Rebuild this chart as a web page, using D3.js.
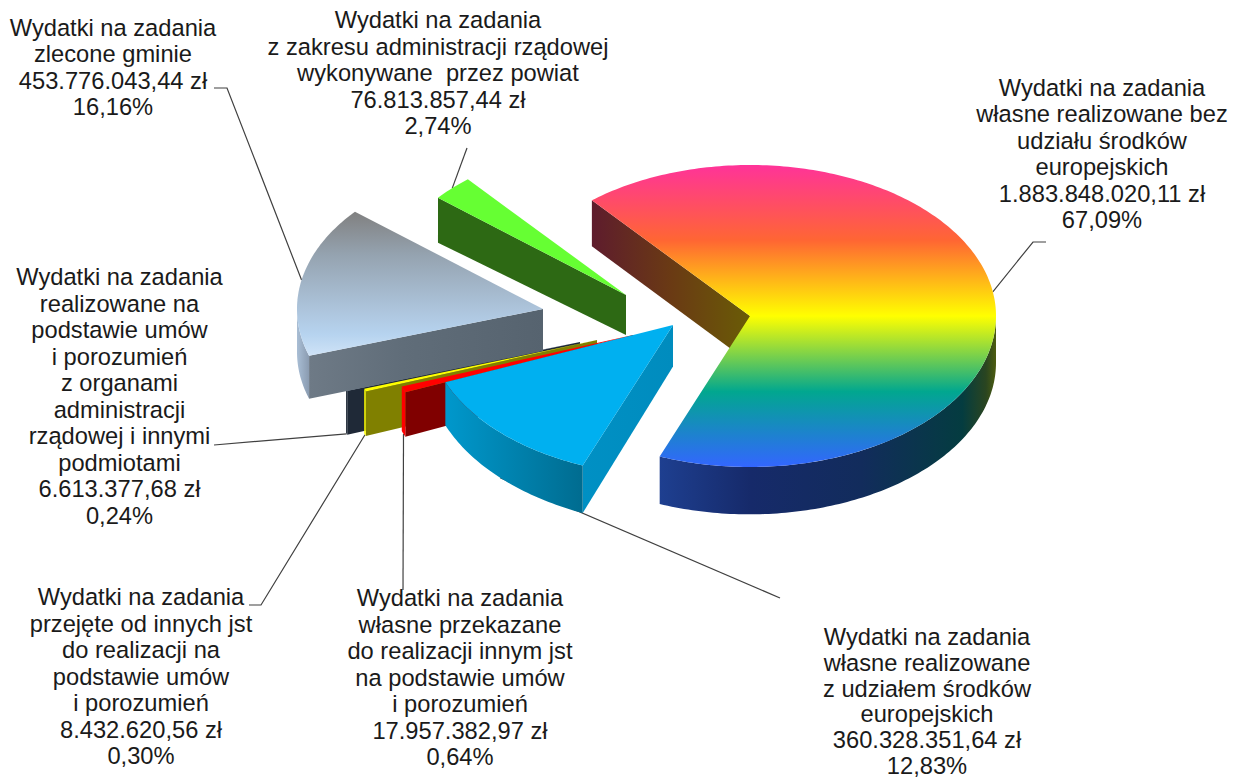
<!DOCTYPE html>
<html><head><meta charset="utf-8">
<style>html,body{margin:0;padding:0;background:#fff;overflow:hidden}svg{display:block}text{font-family:"Liberation Sans",Arial,sans-serif;white-space:pre}</style>
<script src="https://cdn.jsdelivr.net/npm/d3@7/dist/d3.min.js"></script>
</head><body><svg id="c" width="1238" height="780"></svg>
<script>
// ---- data ----
const sliceNames = ["big","blue","red","olive","dark","gray","green"];
const sliceValues = [1883848020.11, 360328351.64, 17957382.97, 8432620.56, 6613377.68, 453776043.44, 76813857.44];
const sliceDescriptions = [
  ["Wydatki na zadania","własne realizowane bez","udziału środków","europejskich"],
  ["Wydatki na zadania","własne realizowane","z udziałem środków","europejskich"],
  ["Wydatki na zadania","własne przekazane","do realizacji innym jst","na podstawie umów","i porozumień"],
  ["Wydatki na zadania","przejęte od innych jst","do realizacji na","podstawie umów","i porozumień"],
  ["Wydatki na zadania","realizowane na","podstawie umów","i porozumień","z organami","administracji","rządowej i innymi","podmiotami"],
  ["Wydatki na zadania","zlecone gminie"],
  ["Wydatki na zadania","z zakresu administracji rządowej","wykonywane  przez powiat"]
];
// ---- layout (not data) ----
const W=1238,H=780, RX=246, RY=151;
const apexes = {big:[750,316],blue:[673,325],red:[633,335],olive:[597,340],dark:[580,342],gray:[543,309],green:[626,295]};
// wall height: [at apex, at rim start, at rim end]
const wallDepths = {big:[47,46,47.5],blue:[41.6,47.6,43],red:[41,44.5,44.5],olive:[41,44.5,44.5],dark:[41,44,44],gray:[42,43,43],green:[40,45,45]};
const labelPos = {big:[1102,95.5],blue:[927,645],red:[460,606],olive:[141,605],dark:[119.5,285],gray:[113,35.5],green:[438,28]};
const labelSpacing = {big:26.5,blue:25.8,red:26.5,olive:26.5,dark:26.5,gray:26.5,green:26.5};
const leaderElbows = {
  big:[[1033,242],[1046,242]], blue:[[780,598]], red:[[403,590]],
  olive:[[261,605],[249,605]], dark:[[214,445]], gray:[[227,88],[214,88]], green:[[467,148]]
};
const leaderAtBottom = {blue:1,red:1,olive:1,dark:1};
const drawOrder = ["green","dark","gray","olive","red","blue","big"];
const styles = {
  big:{top:[[0,"#ff3399"],[.25,"#ff6633"],[.5,"#ffff00"],[.75,"#01a78f"],[1,"#3366ff"]],
       radial:[[0,"#5e1c2d"],[.5,"#6a3a14"],[1,"#6a5c06"]],
       arc:[[0,"#1e3f90"],[.27,"#162a6a"],[.6,"#122c5c"],[.9,"#043c40"],[.97,"#2a4520"],[1,"#4d5c10"]]},
  blue:{top:[[0,"#00b0f0"],[1,"#00b0f0"]],radial:[[0,"#0090c4"],[1,"#008cbe"]],arc:[[0,"#0098cc"],[1,"#006c90"]]},
  red:{top:[[0,"#ff0000"],[1,"#ff0000"]],radial:[[0,"#800000"],[1,"#800000"]],arc:[[0,"#ff0000"],[1,"#ff0000"]]},
  olive:{top:[[0,"#ffff00"],[1,"#ffff00"]],radial:[[0,"#808000"],[1,"#808000"]],arc:[[0,"#ffff00"],[1,"#ffff00"]]},
  dark:{top:[[0,"#3a4d66"],[1,"#3a4d66"]],radial:[[0,"#1f2937"],[1,"#1f2937"]],arc:[[0,"#1f2937"],[1,"#1f2937"]]},
  gray:{top:[[0,"#808080"],[.3,"#95a3b0"],[.7,"#aec6de"],[.85,"#b6d3ef"],[1,"#cfe3f7"]],
        radial:[[0,"#6e7a86"],[.4,"#606d79"],[1,"#56636f"]],arc:[[0,"#a9bed5"],[1,"#8a9bb0"]]},
  green:{top:[[0,"#66ff33"],[1,"#66ff33"]],radial:[[0,"#2d6914"],[1,"#2d6914"]],arc:[[0,"#2d6914"],[1,"#2d6914"]]}
};
// ---- chart ----
const svg=d3.select("#c");
const defs=svg.append("defs");
const rad=d=>d*Math.PI/180;
const pie=d3.pie().sort(null).value(d=>d).startAngle(rad(-40)).endAngle(rad(320));
const arcs=pie(sliceValues);
const total=d3.sum(sliceValues);
const loc=d3.formatLocale({decimal:",",thousands:".",grouping:[3],currency:["",""]});
const fmtV=loc.format(",.2f"), fmtP=loc.format(".2f");
const xs=d3.scaleLinear().domain([-1,1]).range([-RX,RX]);
const ys=d3.scaleLinear().domain([-1,1]).range([-RY,RY]);
const pt=(name,a,z=0)=>{const [ax,ay]=apexes[name];return [ax+xs(Math.sin(a)),ay+ys(-Math.cos(a))+z];};
const line=d3.line();
const sample=(a0,a1)=>{const n=Math.max(2,Math.ceil(Math.abs(a1-a0)/rad(1)));return d3.range(n+1).map(i=>a0+(a1-a0)*i/n);};
function grad(id,stops,x1,y1,x2,y2){
  const g=defs.append("linearGradient").attr("id",id).attr("gradientUnits","userSpaceOnUse")
    .attr("x1",x1).attr("y1",y1).attr("x2",x2).attr("y2",y2);
  stops.forEach(s=>g.append("stop").attr("offset",s[0]).attr("stop-color",s[1]));
  return `url(#${id})`;
}
const byName={};arcs.forEach((d,i)=>byName[sliceNames[i]]=d);
const rimDepth=(name,a)=>{const d=byName[name],w=wallDepths[name];return w[1]+(w[2]-w[1])*(a-d.startAngle)/(d.endAngle-d.startAngle);};
const lg=svg.append("g");   // leaders sit under the slices
const g=svg.append("g");
drawOrder.forEach(name=>{
  const d=byName[name], st=styles[name], a0=d.startAngle, a1=d.endAngle;
  const apex=apexes[name], w=wallDepths[name];
  const sl=g.append("g").attr("class","slice-"+name);
  const pS=pt(name,a0);
  sl.append("path").attr("d",line([apex,pS,[pS[0],pS[1]+w[1]],[apex[0],apex[1]+w[0]]])+"Z")
    .attr("fill",grad("r-"+name,st.radial,Math.min(apex[0],pS[0]),0,Math.max(apex[0],pS[0]),0));
  const lo=Math.max(a0,rad(90)), hi=Math.min(a1,rad(270));
  if(hi>lo){
    const ang=sample(lo,hi);
    const topE=ang.map(a=>pt(name,a)), botE=ang.map(a=>pt(name,a,rimDepth(name,a))).reverse();
    const xx=topE.map(p=>p[0]);
    sl.append("path").attr("d",line(topE.concat(botE))+"Z")
      .attr("fill",grad("a-"+name,st.arc,d3.min(xx),0,d3.max(xx),0));
  }
  const face=[apex].concat(sample(a0,a1).map(a=>pt(name,a)));
  const yy=face.map(p=>p[1]);
  sl.append("path").attr("d",line(face)+"Z")
    .attr("fill",grad("t-"+name,st.top,0,d3.min(yy),0,d3.max(yy)));
});
const tg=svg.append("g");
arcs.forEach((d,i)=>{
  const name=sliceNames[i], mid=(d.startAngle+d.endAngle)/2;
  const start=pt(name,mid,leaderAtBottom[name]?rimDepth(name,mid):0);
  lg.append("path").attr("d",line([start].concat(leaderElbows[name])))
    .attr("fill","none").attr("stroke","#404040").attr("stroke-width",1.2);
  const lines=sliceDescriptions[i].concat([fmtV(d.value)+" zł",fmtP(d.value/total*100)+"%"]);
  const [lx,ly]=labelPos[name];
  tg.append("g").selectAll("text").data(lines).join("text")
    .attr("x",lx).attr("y",(t,k)=>ly+k*labelSpacing[name]).attr("text-anchor","middle")
    .attr("font-size",23.7).attr("fill","#1a1a1a").text(t=>t);
});
</script></body></html>
